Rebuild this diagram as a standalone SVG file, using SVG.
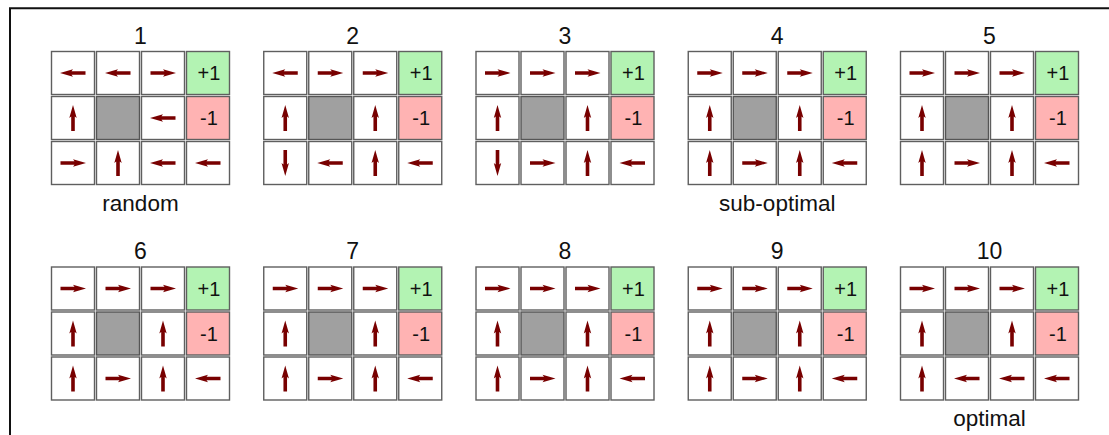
<svg xmlns="http://www.w3.org/2000/svg" xmlns:xlink="http://www.w3.org/1999/xlink" width="1109" height="435" viewBox="0 0 1109 435">
<style>
  .cell { fill: #ffffff; stroke: #5f5f5f; stroke-width: 1.4; }
  .goal { fill: #b3f3b3; stroke: #5f5f5f; stroke-width: 1.4; }
  .pit { fill: #ffb3b3; stroke: #5f5f5f; stroke-width: 1.4; }
  .wall { fill: #a0a0a0; stroke: #555555; stroke-width: 1.4; }
  .arrow { fill: #780000; }
  .val { font-family: "Liberation Sans", Arial, sans-serif; font-size: 20px; fill: #111; text-anchor: middle; }
  .title { font-family: "Liberation Sans", Arial, sans-serif; font-size: 23px; fill: #111; text-anchor: middle; }
  .label { font-family: "Liberation Sans", Arial, sans-serif; font-size: 22.5px; fill: #111; text-anchor: middle; }
</style>
<defs>
  <path id="aR" class="arrow" d="M-12.5,-1.8 H1.5 L0,-3.7 L13,0 L0,3.7 L1.5,1.8 H-12.5 Z"/>
  <path id="aL" class="arrow" d="M12.5,-1.8 H-1.5 L0,-3.7 L-13,0 L0,3.7 L-1.5,1.8 H12.5 Z"/>
  <path id="aU" class="arrow" d="M-1.8,13 V-1.5 L-3.7,0 L0,-13 L3.7,0 L1.8,-1.5 V13 Z"/>
  <path id="aD" class="arrow" d="M-1.8,-13 V1.5 L-3.7,0 L0,13 L3.7,0 L1.8,1.5 V-13 Z"/>
  <g id="board">
    <rect class="cell" x="0.5" y="0.5" width="43" height="43"/>
    <rect class="cell" x="45.5" y="0.5" width="43" height="43"/>
    <rect class="cell" x="90.5" y="0.5" width="43" height="43"/>
    <rect class="goal" x="135.5" y="0.5" width="43" height="43"/>
    <rect class="cell" x="0.5" y="45.5" width="43" height="43"/>
    <rect class="wall" x="45.5" y="45.5" width="43" height="43"/>
    <rect class="cell" x="90.5" y="45.5" width="43" height="43"/>
    <rect class="pit" x="135.5" y="45.5" width="43" height="43"/>
    <rect class="cell" x="0.5" y="90.5" width="43" height="43"/>
    <rect class="cell" x="45.5" y="90.5" width="43" height="43"/>
    <rect class="cell" x="90.5" y="90.5" width="43" height="43"/>
    <rect class="cell" x="135.5" y="90.5" width="43" height="43"/>
    <text class="val" x="158" y="29">+1</text>
    <text class="val" x="158" y="74">-1</text>
  </g>
</defs>

<path id="frame" d="M10,435 V8.2 H1109" fill="none" stroke="#111" stroke-width="2"/>

<g id="grid1" transform="translate(51,51)">
  <use href="#board"/>
  <text class="title" x="89.5" y="-7.5">1</text>
  <use href="#aL" x="22" y="22"/><use href="#aL" x="67" y="22"/><use href="#aR" x="112" y="22"/>
  <use href="#aU" x="22" y="67"/><use href="#aL" x="112" y="67"/>
  <use href="#aR" x="22" y="112"/><use href="#aU" x="67" y="112"/><use href="#aL" x="112" y="112"/><use href="#aL" x="157" y="112"/>
</g>

<g id="grid2" transform="translate(263.25,51)">
  <use href="#board"/>
  <text class="title" x="89.5" y="-7.5">2</text>
  <use href="#aL" x="22" y="22"/><use href="#aR" x="67" y="22"/><use href="#aR" x="112" y="22"/>
  <use href="#aU" x="22" y="67"/><use href="#aU" x="112" y="67"/>
  <use href="#aD" x="22" y="112"/><use href="#aL" x="67" y="112"/><use href="#aU" x="112" y="112"/><use href="#aL" x="157" y="112"/>
</g>

<g id="grid3" transform="translate(475.5,51)">
  <use href="#board"/>
  <text class="title" x="89.5" y="-7.5">3</text>
  <use href="#aR" x="22" y="22"/><use href="#aR" x="67" y="22"/><use href="#aR" x="112" y="22"/>
  <use href="#aU" x="22" y="67"/><use href="#aU" x="112" y="67"/>
  <use href="#aD" x="22" y="112"/><use href="#aR" x="67" y="112"/><use href="#aU" x="112" y="112"/><use href="#aL" x="157" y="112"/>
</g>

<g id="grid4" transform="translate(687.75,51)">
  <use href="#board"/>
  <text class="title" x="89.5" y="-7.5">4</text>
  <use href="#aR" x="22" y="22"/><use href="#aR" x="67" y="22"/><use href="#aR" x="112" y="22"/>
  <use href="#aU" x="22" y="67"/><use href="#aU" x="112" y="67"/>
  <use href="#aU" x="22" y="112"/><use href="#aR" x="67" y="112"/><use href="#aU" x="112" y="112"/><use href="#aL" x="157" y="112"/>
</g>

<g id="grid5" transform="translate(900,51)">
  <use href="#board"/>
  <text class="title" x="89.5" y="-7.5">5</text>
  <use href="#aR" x="22" y="22"/><use href="#aR" x="67" y="22"/><use href="#aR" x="112" y="22"/>
  <use href="#aU" x="22" y="67"/><use href="#aU" x="112" y="67"/>
  <use href="#aU" x="22" y="112"/><use href="#aR" x="67" y="112"/><use href="#aU" x="112" y="112"/><use href="#aL" x="157" y="112"/>
</g>

<g id="grid6" transform="translate(51,266.5)">
  <use href="#board"/>
  <text class="title" x="89.5" y="-7.5">6</text>
  <use href="#aR" x="22" y="22"/><use href="#aR" x="67" y="22"/><use href="#aR" x="112" y="22"/>
  <use href="#aU" x="22" y="67"/><use href="#aU" x="112" y="67"/>
  <use href="#aU" x="22" y="112"/><use href="#aR" x="67" y="112"/><use href="#aU" x="112" y="112"/><use href="#aL" x="157" y="112"/>
</g>

<g id="grid7" transform="translate(263.25,266.5)">
  <use href="#board"/>
  <text class="title" x="89.5" y="-7.5">7</text>
  <use href="#aR" x="22" y="22"/><use href="#aR" x="67" y="22"/><use href="#aR" x="112" y="22"/>
  <use href="#aU" x="22" y="67"/><use href="#aU" x="112" y="67"/>
  <use href="#aU" x="22" y="112"/><use href="#aR" x="67" y="112"/><use href="#aU" x="112" y="112"/><use href="#aL" x="157" y="112"/>
</g>

<g id="grid8" transform="translate(475.5,266.5)">
  <use href="#board"/>
  <text class="title" x="89.5" y="-7.5">8</text>
  <use href="#aR" x="22" y="22"/><use href="#aR" x="67" y="22"/><use href="#aR" x="112" y="22"/>
  <use href="#aU" x="22" y="67"/><use href="#aU" x="112" y="67"/>
  <use href="#aU" x="22" y="112"/><use href="#aR" x="67" y="112"/><use href="#aU" x="112" y="112"/><use href="#aL" x="157" y="112"/>
</g>

<g id="grid9" transform="translate(687.75,266.5)">
  <use href="#board"/>
  <text class="title" x="89.5" y="-7.5">9</text>
  <use href="#aR" x="22" y="22"/><use href="#aR" x="67" y="22"/><use href="#aR" x="112" y="22"/>
  <use href="#aU" x="22" y="67"/><use href="#aU" x="112" y="67"/>
  <use href="#aU" x="22" y="112"/><use href="#aR" x="67" y="112"/><use href="#aU" x="112" y="112"/><use href="#aL" x="157" y="112"/>
</g>

<g id="grid10" transform="translate(900,266.5)">
  <use href="#board"/>
  <text class="title" x="89.5" y="-7.5">10</text>
  <use href="#aR" x="22" y="22"/><use href="#aR" x="67" y="22"/><use href="#aR" x="112" y="22"/>
  <use href="#aU" x="22" y="67"/><use href="#aU" x="112" y="67"/>
  <use href="#aU" x="22" y="112"/><use href="#aL" x="67" y="112"/><use href="#aL" x="112" y="112"/><use href="#aL" x="157" y="112"/>
</g>

<g id="labels">
  <text class="label" x="140.5" y="211">random</text>
  <text class="label" x="777.25" y="211">sub-optimal</text>
  <text class="label" x="989.5" y="426">optimal</text>
</g>
</svg>
